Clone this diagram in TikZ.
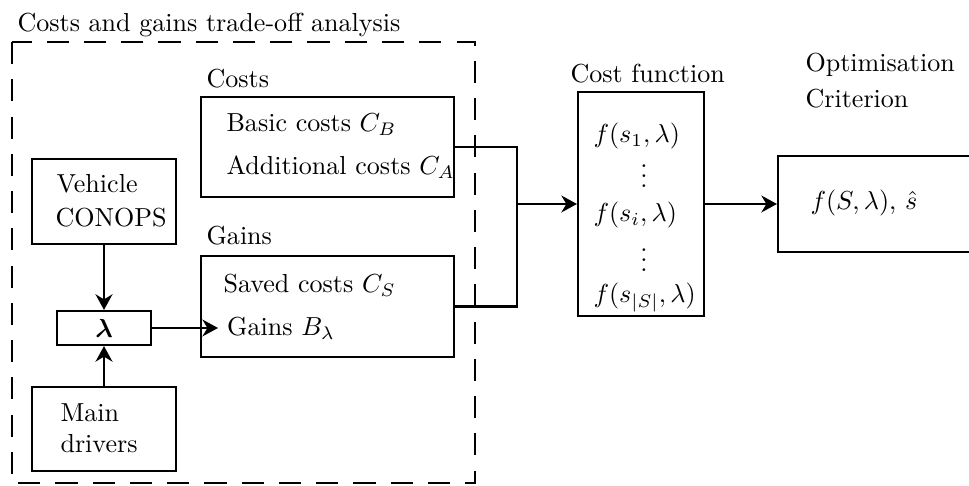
\documentclass[tikz,border=0pt]{standalone}
\usepackage{amsmath}
\usetikzlibrary{arrows.meta}

\newcommand{\pxu}{0.3838pt}

\begin{document}
\begin{tikzpicture}[x=0.01349cm, y=-0.01349cm,
    box/.style={draw, thick, rectangle, inner sep=0pt},
    txt/.style={anchor=base west, inner sep=0pt},
    dots/.style={anchor=base, inner sep=0pt, text height=9pt},
    arr/.style={thick, -{Stealth[length=6pt, width=6.5pt]}}]

    \useasboundingbox (0,0) rectangle (969,486);
    \clip (0,0) rectangle (969,486);

    % Trade-off frame
    \draw[thick, dash pattern=on 8.5pt off 5.8pt] (12,42) rectangle (475,483);
    \node[txt] (title) at (17,32) {Costs and gains trade-off analysis};

    % Costs
    \node[txt] (costslbl) at (206,88) {Costs};
    \node[box, minimum width=253*\pxu, minimum height=100*\pxu] (costs) at (327.5,147) {};
    \node[txt] (basic) at (226,132) {Basic costs $C_B$};
    \node[txt] (addit) at (226,175) {Additional costs $C_A$};

    % Gains
    \node[txt] (gainslbl) at (206,245) {Gains};
    \node[box, minimum width=253*\pxu, minimum height=101*\pxu] (gains) at (327.5,306.5) {};
    \node[txt] (saved) at (223,293) {Saved costs $C_S$};
    \node[anchor=west] (gainsB) at (218,328) {Gains $B_\lambda$};

    % Vehicle CONOPS
    \node[box, minimum width=144*\pxu, minimum height=85*\pxu] (conops) at (104,201.5) {};
    \node[txt] (vehicle) at (56,193) {Vehicle};
    \node[txt] (conopstxt) at (55,227) {CONOPS};

    % Lambda
    \node[box, minimum width=94*\pxu, minimum height=34*\pxu] (lam) at (104,328) {$\boldsymbol{\lambda}$};

    % Main drivers
    \node[box, minimum width=144*\pxu, minimum height=84*\pxu] (drivers) at (104,429) {};
    \node[txt] (main) at (60,422) {Main};
    \node[txt] (drv) at (60,453) {drivers};

    % Cost function
    \node[txt] (costfnlbl) at (570,83) {Cost function};
    \node[box, minimum width=126*\pxu, minimum height=224*\pxu] (costfn) at (641,204) {};
    \node[txt] (fone) at (593,143) {$f(s_1,\lambda)$};
    \node[dots] (dotsa) at (644,188) {$\vdots$};
    \node[txt] (fi) at (593,222) {$f(s_i,\lambda)$};
    \node[dots] (dotsb) at (644,272) {$\vdots$};
    \node[txt] (flast) at (593,303) {$f(s_{|S|},\lambda)$};

    % Optimisation criterion
    \node[txt] (optlbl) at (805,72) {Optimisation};
    \node[txt] (critlbl) at (805,108) {Criterion};
    \node[box, minimum width=240*\pxu, minimum height=96*\pxu] (optim) at (898,204) {};
    \node[txt] (result) at (810,210) {$f(S,\lambda)$, $\hat{s}$};

    % Connections
    \coordinate (join) at (517,204);
    \draw[thick] (costs.east) -| (join) |- (gains.east);
    \draw[arr] (join) -- (costfn.west);
    \draw[arr] (costfn.east) -- (optim.west);
    \draw[arr] (conops) -- (lam);
    \draw[arr] (drivers) -- (lam);
    \draw[arr] (lam.east) -- (gainsB.west);

\end{tikzpicture}
\end{document}
